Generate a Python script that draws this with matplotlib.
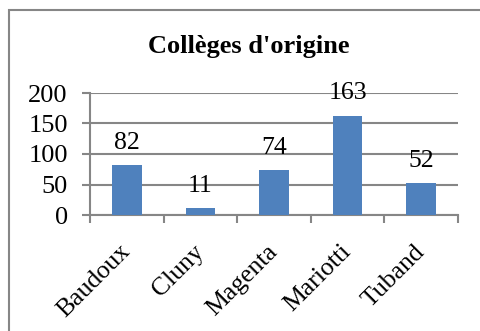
import matplotlib.pyplot as plt
from matplotlib.patches import Rectangle

colleges = ["Baudoux", "Cluny", "Magenta", "Mariotti", "Tuband"]
effectifs = [82, 11, 74, 163, 52]
y_ticks = [0, 50, 100, 150, 200]

plt.rcParams["font.family"] = ["Liberation Serif", "DejaVu Serif"]
grid_grey = "#868686"
bar_blue = "#4F81BD"

fig = plt.figure(figsize=(4.8, 3.31), dpi=100)
ax = fig.add_axes([90 / 480, 1 - 215 / 331, 368 / 480, 122 / 331])

# chart frame around the whole figure
fig.patches.append(Rectangle((9 / 480, -0.2), 1.2, 1 - 9.5 / 331 + 0.2,
                             transform=fig.transFigure, fill=False,
                             edgecolor=grid_grey, linewidth=1.5))

x = range(len(colleges))
bars = ax.bar(x, effectifs, width=0.4, color=bar_blue, zorder=3)
for rect, val in zip(bars, effectifs):
    ax.annotate(str(val), (rect.get_x() + rect.get_width() / 2, val),
                xytext=(0, 8), textcoords="offset points",
                ha="center", va="bottom", fontsize=18.5)

ax.set_xlim(-0.5, len(colleges) - 0.5)
ax.set_ylim(0, 200)
ax.set_yticks(y_ticks)
ax.set_yticklabels([str(t) for t in y_ticks], fontsize=19)
ax.yaxis.grid(True, color=grid_grey, linewidth=1.5, zorder=0)
ax.tick_params(axis="y", length=6, width=1.5, color=grid_grey, pad=10)

# category labels at centres, tick marks between categories
ax.set_xticks(list(x))
ax.set_xticklabels(colleges, rotation=45, ha="right", va="center",
                   rotation_mode="anchor", fontsize=18.5)
ax.set_xticks([i - 0.5 for i in range(len(colleges) + 1)], minor=True)
ax.tick_params(axis="x", which="major", length=0, pad=24)
ax.tick_params(axis="x", which="minor", length=6, width=1.5, color=grid_grey)

for side in ["top", "right"]:
    ax.spines[side].set_visible(False)
ax.spines["left"].set_color(grid_grey)
ax.spines["left"].set_linewidth(1.5)
ax.spines["bottom"].set_color(grid_grey)
ax.spines["bottom"].set_linewidth(1.5)

fig.text(249 / 480, 1 - 47 / 331, "Collèges d'origine", ha="center",
         va="center", fontsize=19, fontweight="bold")

fig.savefig("out.png", dpi=100)
